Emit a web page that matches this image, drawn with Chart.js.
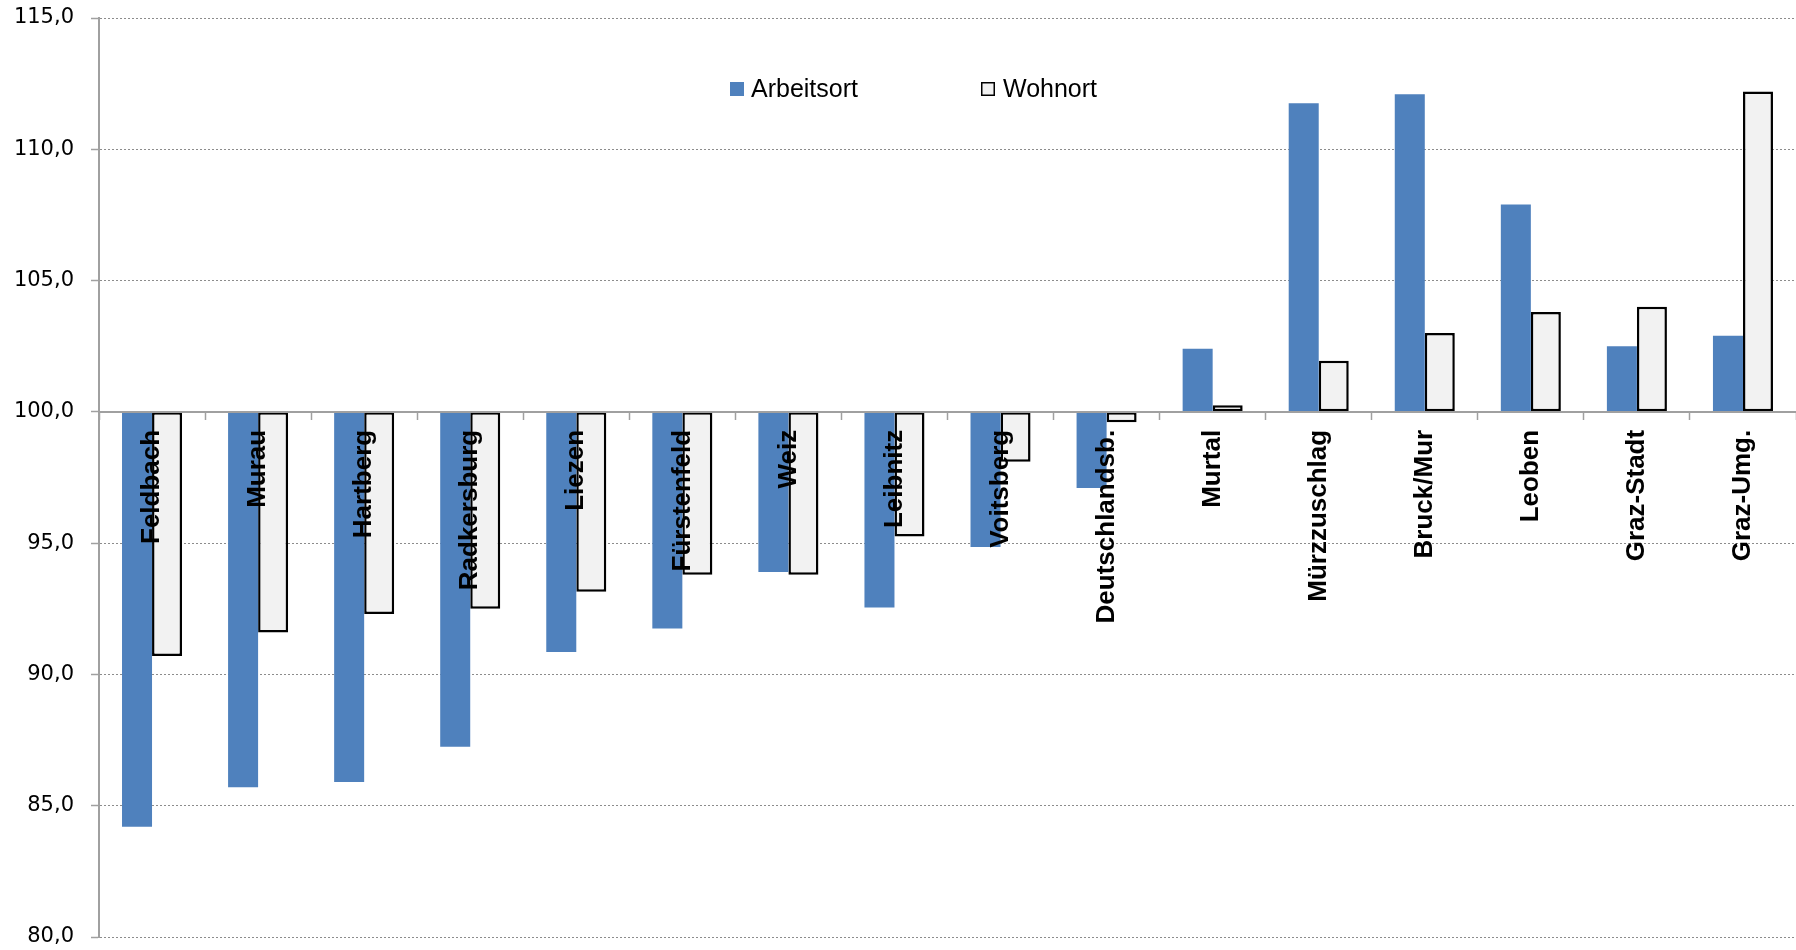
<!DOCTYPE html>
<html>
<head>
<meta charset="utf-8">
<script src="https://cdn.jsdelivr.net/npm/chart.js@4.4.1/dist/chart.umd.min.js"></script>
<style>
  html, body { margin: 0; padding: 0; background: #fff; overflow: hidden; }
</style>
</head>
<body>
<canvas id="chart" width="1796" height="950"></canvas>
<script>
// Bezirke, sortiert wie im Original
const bezirke = ['Feldbach', 'Murau', 'Hartberg', 'Radkersburg', 'Liezen', 'Fürstenfeld', 'Weiz', 'Leibnitz',
  'Voitsberg', 'Deutschlandsb.', 'Murtal', 'Mürzzuschlag', 'Bruck/Mur', 'Leoben', 'Graz-Stadt', 'Graz-Umg.'];
const arbeitsort = [84.2, 85.7, 85.9, 87.25, 90.85, 91.75, 93.9, 92.55, 94.85, 97.1, 102.4, 111.75, 112.1, 107.9, 102.5, 102.9];
const wohnort = [90.7, 91.6, 92.3, 92.5, 93.15, 93.8, 93.8, 95.25, 98.1, 99.6, 100.25, 101.95, 103.0, 103.8, 104.0, 112.2];
const yMin = 80;
const yMax = 115;
const yStep = 5;
const baseValue = 100;

// legend drawn inside the plot, like the original
const innerLegend = {
  id: 'innerLegend',
  afterDraw(chart) {
    const ctx = chart.ctx;
    const spots = [{ box: 730, text: 751 }, { box: 981, text: 1003 }];
    ctx.save();
    ctx.font = '25px "Liberation Sans", Arial, sans-serif';
    ctx.textBaseline = 'middle';
    chart.data.datasets.forEach((ds, i) => {
      const s = spots[i];
      ctx.fillStyle = ds.backgroundColor;
      ctx.fillRect(s.box, 82, 14, 14);
      if (ds.borderWidth) {
        ctx.strokeStyle = ds.borderColor;
        ctx.lineWidth = 1.5;
        ctx.strokeRect(s.box + 0.75, 82.75, 12.5, 12.5);
      }
      ctx.fillStyle = '#000';
      ctx.fillText(ds.label, s.text, 90);
    });
    ctx.restore();
  }
};

new Chart(document.getElementById('chart'), {
  type: 'bar',
  data: {
    labels: bezirke,
    datasets: [
      { label: 'Arbeitsort', data: arbeitsort, base: baseValue, backgroundColor: '#4f81bd', borderWidth: 0 },
      { label: 'Wohnort', data: wohnort, base: baseValue, backgroundColor: '#f2f2f2', borderColor: '#000', borderWidth: 2.5, borderSkipped: false }
    ]
  },
  options: {
    responsive: false,
    animation: false,
    events: [],
    layout: { padding: { left: 0, right: 0, top: 18, bottom: 13 } },
    datasets: { bar: { categoryPercentage: 0.566, barPercentage: 1.0 } },
    plugins: { legend: { display: false }, tooltip: { enabled: false } },
    scales: {
      x: {
        position: { y: baseValue },
        offset: true,
        grid: { z: 1, drawOnChartArea: false, drawTicks: true, tickLength: 7, tickColor: '#a0a0a0', tickWidth: 1.5 },
        border: { z: 1, display: true, color: '#a0a0a0', width: 2 },
        ticks: {
          z: 1, autoSkip: false, minRotation: 90, maxRotation: 90, padding: 11, color: '#000',
          font: { family: '"Liberation Sans", Arial, sans-serif', size: 26, weight: 'bold' }
        }
      },
      y: {
        min: yMin,
        max: yMax,
        afterFit(scale) {
          scale.width = 99;
          scale.paddingTop = 0;
          scale.paddingBottom = 0;
        },
        grid: { color: '#8c8c8c', lineWidth: 1, tickLength: 8, tickColor: '#a0a0a0', tickBorderDash: [], tickWidth: 1.5 },
        border: { display: true, color: '#a0a0a0', width: 2, dash: [2, 2] },
        ticks: {
          stepSize: yStep, padding: 17, color: '#000',
          font: { family: '"DejaVu Sans", sans-serif', size: 21 },
          callback: v => v.toFixed(1).replace('.', ',')
        }
      }
    }
  },
  plugins: [innerLegend]
});
</script>
</body>
</html>
